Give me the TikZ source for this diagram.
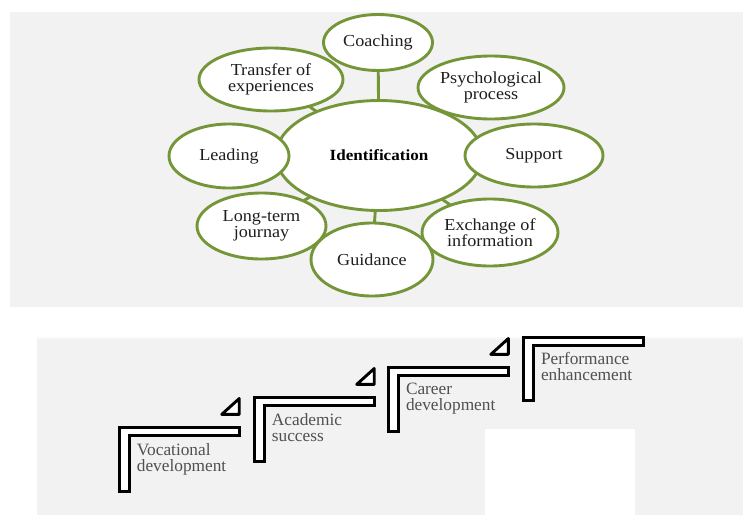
\documentclass[tikz,border=0pt]{standalone}
\usepackage{fontspec}
\setmainfont{Liberation Serif}
\newfontfamily\ellfont[FakeStretch=1.08]{Liberation Serif}
\newfontfamily\identfont[FakeStretch=1.1]{Liberation Serif}
\usetikzlibrary{shapes.geometric}
\definecolor{sagreen}{RGB}{116,150,56}
\definecolor{panelgray}{RGB}{242,242,242}
\definecolor{panelline}{RGB}{248,248,248}
\definecolor{ellipsetext}{RGB}{30,30,30}
\definecolor{steptext}{RGB}{80,80,80}
\pgfdeclarelayer{bg}
\pgfdeclarelayer{lines}
\pgfsetlayers{bg,lines,main}
\begin{document}
\begin{tikzpicture}[x=1pt,y=-1pt,
  oval/.style={ellipse,draw=sagreen,line width=2.9pt,fill=white,inner sep=0pt,
    align=center,text=ellipsetext,font=\ellfont\fontsize{16.8}{15.8}\selectfont},
  link/.style={draw=sagreen,line width=2.9pt},
  stepshape/.style={draw=black,fill=white,line width=2.9pt,line join=miter},
  steplabel/.style={anchor=north west,inner sep=0pt,align=left,text=steptext,
    font=\fontsize{17.3}{16}\selectfont}]
\useasboundingbox (0,0) rectangle (743,515);
\begin{pgfonlayer}{bg}
  \fill[panelgray] (10,12) rectangle (743,306.5);
  \fill[panelline] (37,337) rectangle (743,339);
  \fill[panelgray] (37,339) rectangle (743,515);
  \fill[white] (485,429) rectangle (635,515);
\end{pgfonlayer}
% ellipses
\node[oval,minimum width=206pt,minimum height=110pt,
  font=\identfont\bfseries\fontsize{15.5}{15}\selectfont,text=black] (ident) at (379,155.5) {Identification};
\node[oval,minimum width=109pt,minimum height=56pt] (coach) at (378,42.5) {Coaching};
\node[oval,minimum width=144pt,minimum height=63pt] (transfer) at (271,79.5) {Transfer of\\experiences};
\node[oval,minimum width=146pt,minimum height=63pt] (psych) at (491,87.5) {Psychological\\process};
\node[oval,minimum width=120pt,minimum height=64pt] (leading) at (229,156) {Leading};
\node[oval,minimum width=138pt,minimum height=63pt] (support) at (534,155.5) {Support};
\node[oval,minimum width=129pt,minimum height=66pt] (longterm) at (261.5,226) {Long-term\\journay};
\node[oval,minimum width=136pt,minimum height=67pt] (exchange) at (490,232.5) {Exchange of\\information};
\node[oval,minimum width=122pt,minimum height=73pt] (guidance) at (372,259.5) {Guidance};
\begin{pgfonlayer}{lines}
  \foreach \t in {coach,transfer,psych,leading,support,longterm,exchange,guidance}
    \draw[link] (ident.center) -- (\t.center);
\end{pgfonlayer}
% steps
\foreach \n/\a/\b/\txt in {1/117.7/426/{Vocational\\development},
                           2/252.7/396/{Academic\\success},
                           3/386.8/366/{Career\\development},
                           4/521.8/335.7/{Performance\\enhancement}} {
  \draw[stepshape] (\a+1.45,\b+1.45) -- (\a+121.55,\b+1.45) -- (\a+121.55,\b+9.55)
     -- (\a+11.35,\b+9.55) -- (\a+11.35,\b+65.05) -- (\a+1.45,\b+65.05) -- cycle;
  \node[steplabel] (lab\n) at (\a+19,\b+16.8) {\txt};
}
\foreach \a/\b in {117.7/426, 252.7/396, 386.8/366} {
  \draw[stepshape,line join=round] (\a+104,\b-11.6) -- (\a+121.55,\b-27.5)
     -- (\a+121.55,\b-11.6) -- cycle;
}
\end{tikzpicture}
\end{document}
